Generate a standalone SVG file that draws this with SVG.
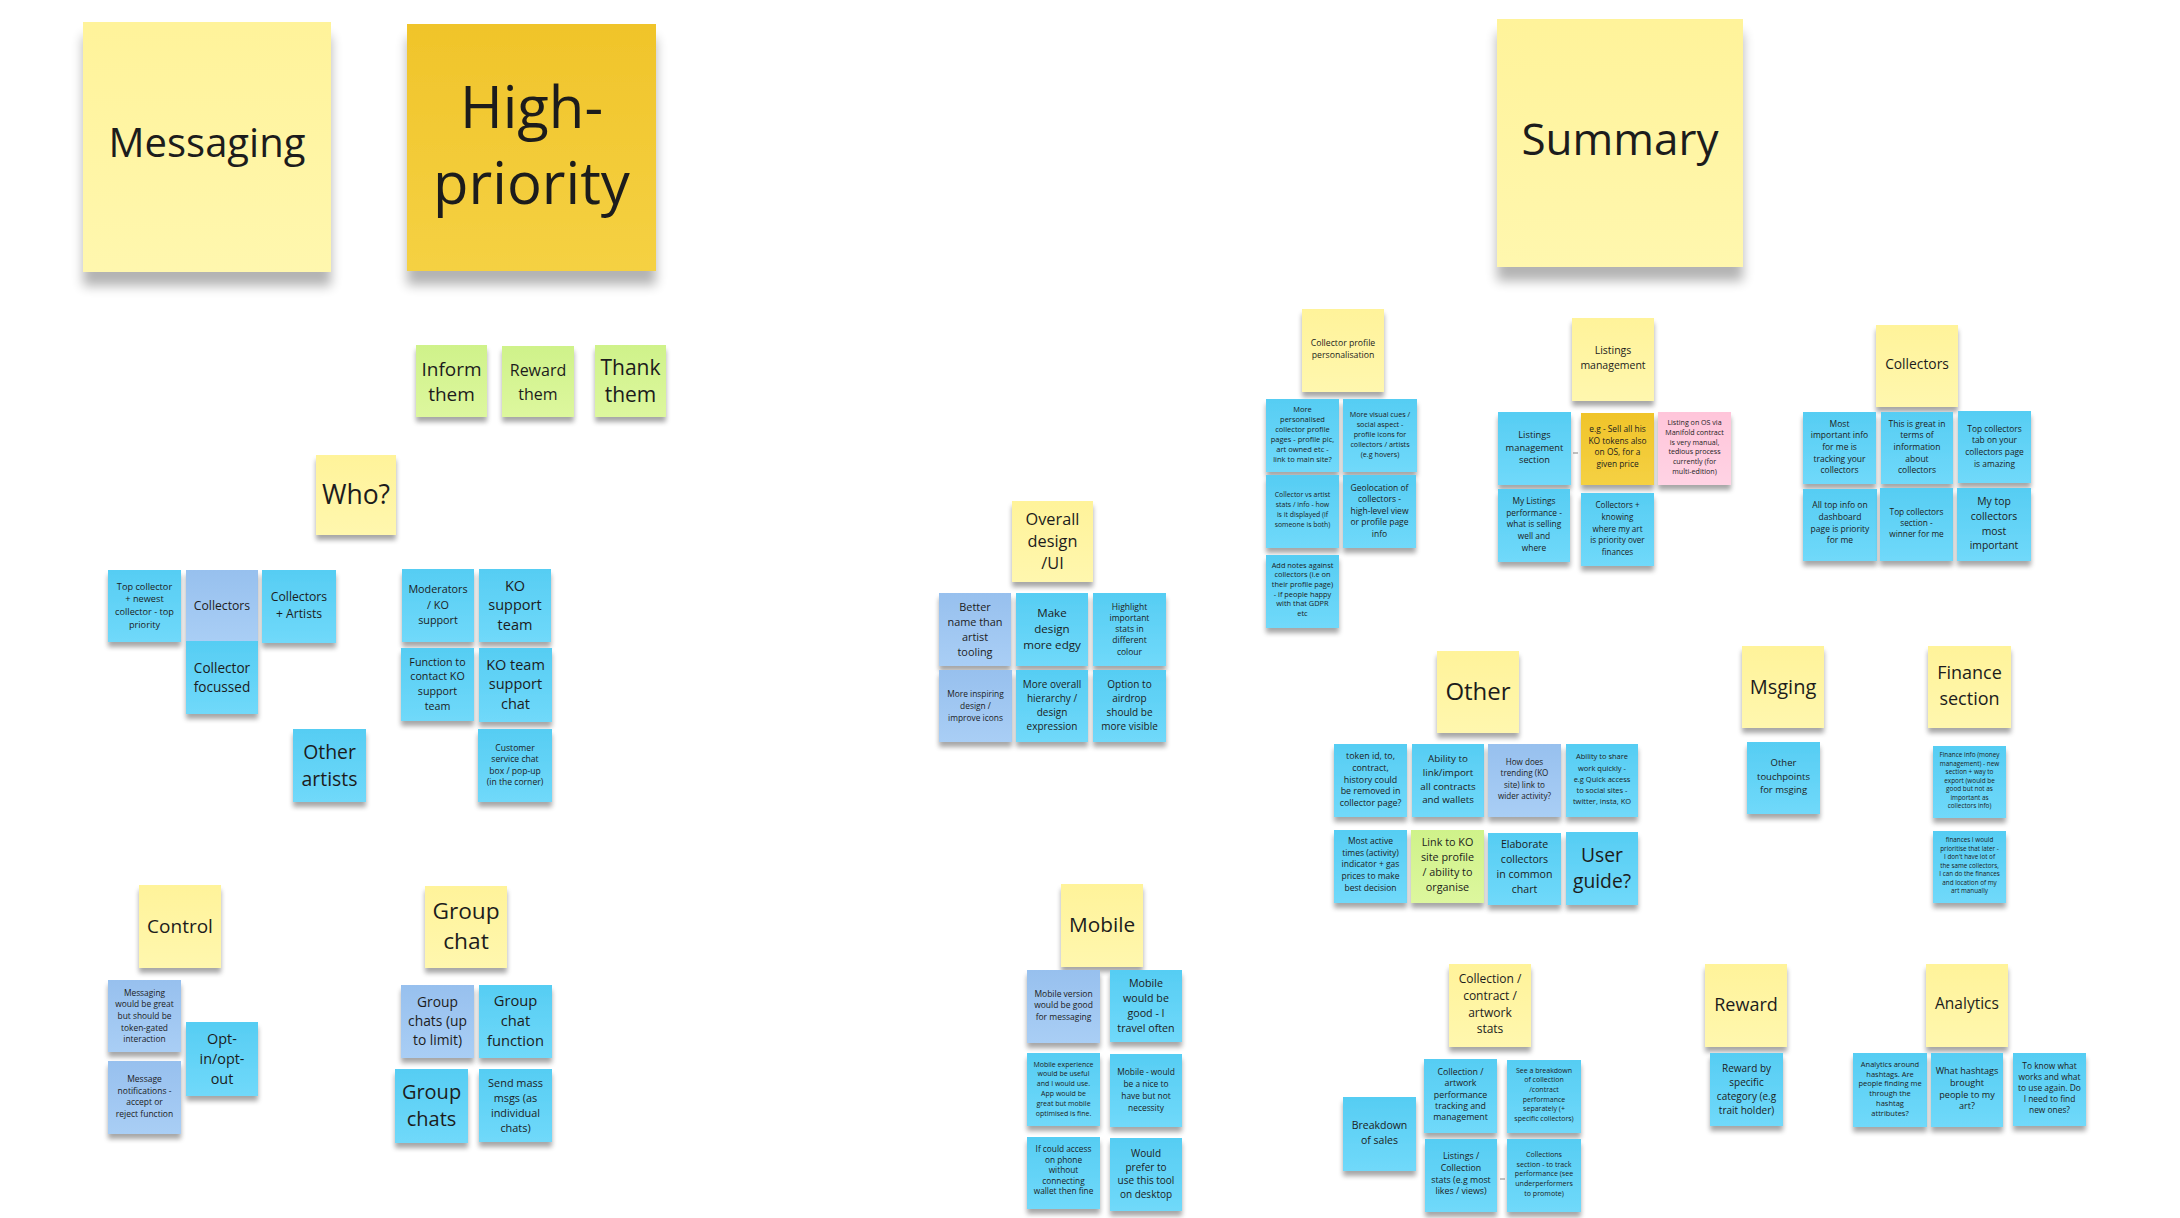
<svg xmlns="http://www.w3.org/2000/svg" width="2180" height="1218" viewBox="0 0 2180 1218">
<defs>
<linearGradient id="gc" x1="0" y1="0" x2="0" y2="1"><stop offset="0" stop-color="#56CDF3"/><stop offset="1" stop-color="#70D9FA"/></linearGradient>
<linearGradient id="gp" x1="0" y1="0" x2="0" y2="1"><stop offset="0" stop-color="#97C0EE"/><stop offset="1" stop-color="#A9CEF5"/></linearGradient>
<linearGradient id="gy" x1="0" y1="0" x2="0" y2="1"><stop offset="0" stop-color="#FFF39A"/><stop offset="1" stop-color="#FFF7AE"/></linearGradient>
<linearGradient id="gg" x1="0" y1="0" x2="0" y2="1"><stop offset="0" stop-color="#CFF28A"/><stop offset="1" stop-color="#DDF79E"/></linearGradient>
<linearGradient id="go" x1="0" y1="0" x2="0" y2="1"><stop offset="0" stop-color="#F0C42A"/><stop offset="1" stop-color="#F5D143"/></linearGradient>
<linearGradient id="gk" x1="0" y1="0" x2="0" y2="1"><stop offset="0" stop-color="#FFC5DA"/><stop offset="1" stop-color="#FFD3E4"/></linearGradient>
<radialGradient id="bot" cx="0.5" cy="1" r="0.5" gradientTransform="translate(0,0) scale(1,1)"><stop offset="0" stop-color="#000" stop-opacity="0.07"/><stop offset="1" stop-color="#000" stop-opacity="0"/></radialGradient>
<filter id="s" x="-20%" y="-20%" width="140%" height="150%"><feGaussianBlur in="SourceAlpha" stdDeviation="2.5"/><feOffset dy="5"/><feComponentTransfer><feFuncA type="linear" slope="0.35"/></feComponentTransfer><feMerge><feMergeNode/><feMergeNode in="SourceGraphic"/></feMerge></filter>
<filter id="L" x="-20%" y="-20%" width="140%" height="150%"><feGaussianBlur in="SourceAlpha" stdDeviation="6"/><feOffset dy="14"/><feComponentTransfer><feFuncA type="linear" slope="0.3"/></feComponentTransfer><feMerge><feMergeNode/><feMergeNode in="SourceGraphic"/></feMerge></filter>
</defs>
<style>
rect.n{filter:url(#s)}
rect.B{filter:url(#L)}
.c{fill:url(#gc)}.p{fill:url(#gp)}.y{fill:url(#gy)}.g{fill:url(#gg)}.o{fill:url(#go)}.k{fill:url(#gk)}
text{font-family:"Open Sans","Noto Sans","Liberation Sans",sans-serif;fill:#1c1c1c;text-anchor:middle}
.cn{stroke:#9a9a9a;stroke-width:1.2;fill:none}
</style>
<rect width="2180" height="1218" fill="#ffffff"/>
<ellipse cx="1050" cy="1240" rx="900" ry="60" fill="url(#bot)"/>

<g id="connectors">
<line class="cn" x1="1573" y1="453" x2="1578" y2="453"/>
<line class="cn" x1="1500" y1="1179" x2="1505" y2="1179"/>
</g>

<g id="note-messaging"><rect class="B y" x="83" y="22" width="248" height="250"/><text x="207" y="157" font-size="40">Messaging</text></g>
<g id="note-high-priority"><rect class="B o" x="407" y="24" width="249" height="247"/><text x="531.5" y="128" font-size="58">High-<tspan x="531.5" dy="76">priority</tspan></text></g>
<g id="note-summary"><rect class="B y" x="1497" y="19" width="246" height="248"/><text x="1620" y="155" font-size="44">Summary</text></g>

<g id="note-inform"><rect class="n g" x="416" y="345" width="71" height="72"/><text x="451.5" y="376" font-size="19">Inform<tspan x="451.5" dy="25">them</tspan></text></g>
<g id="note-reward-them"><rect class="n g" x="502" y="346" width="72" height="71"/><text x="538" y="376" font-size="16">Reward<tspan x="538" dy="24">them</tspan></text></g>
<g id="note-thank"><rect class="n g" x="595" y="345" width="71" height="72"/><text x="630.5" y="375" font-size="21">Thank<tspan x="630.5" dy="27">them</tspan></text></g>

<g id="note-who"><rect class="n y" x="316" y="455" width="80" height="80"/><text x="356" y="504" font-size="26.5">Who?</text></g>
<g id="note-top-collector"><rect class="n c" x="108" y="570" width="73" height="72"/><text x="144.5" y="589.5" font-size="9.2">Top collector<tspan x="144.5" dy="12.7">+ newest</tspan><tspan x="144.5" dy="12.7">collector - top</tspan><tspan x="144.5" dy="12.7">priority</tspan></text></g>
<g id="note-collectors-who"><rect class="n p" x="186" y="570" width="72" height="71"/><text x="222" y="609.5" font-size="12.2">Collectors</text></g>
<g id="note-collector-focussed"><rect class="n c" x="186" y="641" width="72" height="73"/><text x="222" y="672.5" font-size="13.6">Collector<tspan x="222" dy="19">focussed</tspan></text></g>
<g id="note-collectors-artists"><rect class="n c" x="262" y="570" width="74" height="73"/><text x="299" y="601" font-size="12.2">Collectors<tspan x="299" dy="17">+ Artists</tspan></text></g>
<g id="note-other-artists"><rect class="n c" x="293" y="729" width="73" height="73"/><text x="329.5" y="759" font-size="19.4">Other<tspan x="329.5" dy="27">artists</tspan></text></g>
<g id="note-moderators"><rect class="n c" x="402" y="569" width="72" height="73"/><text x="438" y="593" font-size="10.8">Moderators<tspan x="438" dy="15.5">/ KO</tspan><tspan x="438" dy="15.5">support</tspan></text></g>
<g id="note-ko-support-team"><rect class="n c" x="479" y="569" width="72" height="73"/><text x="515" y="590.5" font-size="14.5">KO<tspan x="515" dy="19.7">support</tspan><tspan x="515" dy="19.7">team</tspan></text></g>
<g id="note-function-contact"><rect class="n c" x="401" y="648" width="73" height="73"/><text x="437.5" y="665.5" font-size="10.7">Function to<tspan x="437.5" dy="14.8">contact KO</tspan><tspan x="437.5" dy="14.8">support</tspan><tspan x="437.5" dy="14.8">team</tspan></text></g>
<g id="note-ko-team-chat"><rect class="n c" x="479" y="648" width="73" height="74"/><text x="515.5" y="669.5" font-size="14.5">KO team<tspan x="515.5" dy="19.7">support</tspan><tspan x="515.5" dy="19.7">chat</tspan></text></g>
<g id="note-customer-service"><rect class="n c" x="478" y="729" width="74" height="73"/><text x="515" y="751.3" font-size="8.6">Customer<tspan x="515" dy="11.1">service chat</tspan><tspan x="515" dy="11.1">box / pop-up</tspan><tspan x="515" dy="11.1">(in the corner)</tspan></text></g>

<g id="note-control"><rect class="n y" x="139" y="885" width="82" height="83"/><text x="180" y="933" font-size="19">Control</text></g>
<g id="note-messaging-token"><rect class="n p" x="108" y="980" width="73" height="72"/><text x="144.5" y="995.5" font-size="8.4">Messaging<tspan x="144.5" dy="11.7">would be great</tspan><tspan x="144.5" dy="11.7">but should be</tspan><tspan x="144.5" dy="11.7">token-gated</tspan><tspan x="144.5" dy="11.7">interaction</tspan></text></g>
<g id="note-message-notifications"><rect class="n p" x="108" y="1061" width="73" height="73"/><text x="144.5" y="1082" font-size="8.5">Message<tspan x="144.5" dy="11.7">notifications -</tspan><tspan x="144.5" dy="11.7">accept or</tspan><tspan x="144.5" dy="11.7">reject function</tspan></text></g>
<g id="note-opt-in"><rect class="n c" x="186" y="1022" width="72" height="74"/><text x="222" y="1044" font-size="14.4">Opt-<tspan x="222" dy="20">in/opt-</tspan><tspan x="222" dy="20">out</tspan></text></g>

<g id="note-group-chat"><rect class="n y" x="425" y="886" width="82" height="82"/><text x="466" y="919" font-size="22.7">Group<tspan x="466" dy="30">chat</tspan></text></g>
<g id="note-group-chats-limit"><rect class="n p" x="401" y="985" width="73" height="73"/><text x="437.5" y="1007" font-size="13.8">Group<tspan x="437.5" dy="19">chats (up</tspan><tspan x="437.5" dy="19">to limit)</tspan></text></g>
<g id="note-group-chat-function"><rect class="n c" x="479" y="985" width="73" height="73"/><text x="515.5" y="1006" font-size="14.7">Group<tspan x="515.5" dy="20">chat</tspan><tspan x="515.5" dy="20">function</tspan></text></g>
<g id="note-group-chats"><rect class="n c" x="395" y="1069" width="73" height="74"/><text x="431.5" y="1098.5" font-size="20">Group<tspan x="431.5" dy="27.5">chats</tspan></text></g>
<g id="note-send-mass"><rect class="n c" x="479" y="1069" width="73" height="73"/><text x="515.5" y="1086.5" font-size="10.9">Send mass<tspan x="515.5" dy="15">msgs (as</tspan><tspan x="515.5" dy="15">individual</tspan><tspan x="515.5" dy="15">chats)</tspan></text></g>

<g id="note-overall-design"><rect class="n y" x="1012" y="501" width="81" height="81"/><text x="1052.5" y="525" font-size="16.3">Overall<tspan x="1052.5" dy="22">design</tspan><tspan x="1052.5" dy="22">/UI</tspan></text></g>
<g id="note-better-name"><rect class="n p" x="939" y="593" width="72" height="73"/><text x="975" y="610.5" font-size="10.9">Better<tspan x="975" dy="15">name than</tspan><tspan x="975" dy="15">artist</tspan><tspan x="975" dy="15">tooling</tspan></text></g>
<g id="note-make-design"><rect class="n c" x="1016" y="593" width="72" height="73"/><text x="1052" y="617" font-size="11.6">Make<tspan x="1052" dy="15.8">design</tspan><tspan x="1052" dy="15.8">more edgy</tspan></text></g>
<g id="note-highlight"><rect class="n c" x="1093" y="593" width="73" height="73"/><text x="1129.5" y="609.5" font-size="8.5">Highlight<tspan x="1129.5" dy="11.3">important</tspan><tspan x="1129.5" dy="11.3">stats in</tspan><tspan x="1129.5" dy="11.3">different</tspan><tspan x="1129.5" dy="11.3">colour</tspan></text></g>
<g id="note-more-inspiring"><rect class="n p" x="939" y="670" width="73" height="72"/><text x="975.5" y="697.3" font-size="8.4">More inspiring<tspan x="975.5" dy="11.7">design /</tspan><tspan x="975.5" dy="11.7">improve icons</tspan></text></g>
<g id="note-more-overall"><rect class="n c" x="1016" y="670" width="72" height="72"/><text x="1052" y="688.3" font-size="10">More overall<tspan x="1052" dy="14">hierarchy /</tspan><tspan x="1052" dy="14">design</tspan><tspan x="1052" dy="14">expression</tspan></text></g>
<g id="note-option-airdrop"><rect class="n c" x="1093" y="670" width="73" height="72"/><text x="1129.5" y="688.3" font-size="10">Option to<tspan x="1129.5" dy="14">airdrop</tspan><tspan x="1129.5" dy="14">should be</tspan><tspan x="1129.5" dy="14">more visible</tspan></text></g>

<g id="note-mobile"><rect class="n y" x="1061" y="884" width="82" height="83"/><text x="1102" y="932" font-size="20.8">Mobile</text></g>
<g id="note-mobile-version"><rect class="n p" x="1027" y="970" width="73" height="73"/><text x="1063.5" y="997" font-size="8.5">Mobile version<tspan x="1063.5" dy="11.3">would be good</tspan><tspan x="1063.5" dy="11.3">for messaging</tspan></text></g>
<g id="note-mobile-good"><rect class="n c" x="1110" y="970" width="72" height="72"/><text x="1146" y="987" font-size="10.7">Mobile<tspan x="1146" dy="15">would be</tspan><tspan x="1146" dy="15">good - I</tspan><tspan x="1146" dy="15">travel often</tspan></text></g>
<g id="note-mobile-experience"><rect class="n c" x="1027" y="1053" width="73" height="73"/><text x="1063.5" y="1066.5" font-size="7">Mobile experience<tspan x="1063.5" dy="9.9">would be useful</tspan><tspan x="1063.5" dy="9.9">and I would use.</tspan><tspan x="1063.5" dy="9.9">App would be</tspan><tspan x="1063.5" dy="9.9">great but mobile</tspan><tspan x="1063.5" dy="9.9">optimised is fine.</tspan></text></g>
<g id="note-mobile-nice"><rect class="n c" x="1110" y="1054" width="72" height="73"/><text x="1146" y="1075.3" font-size="8.4">Mobile - would<tspan x="1146" dy="11.8">be a nice to</tspan><tspan x="1146" dy="11.8">have but not</tspan><tspan x="1146" dy="11.8">necessity</tspan></text></g>
<g id="note-if-could"><rect class="n c" x="1027" y="1137" width="73" height="72"/><text x="1063.5" y="1152" font-size="8.3">If could access<tspan x="1063.5" dy="10.6">on phone</tspan><tspan x="1063.5" dy="10.6">without</tspan><tspan x="1063.5" dy="10.6">connecting</tspan><tspan x="1063.5" dy="10.6">wallet then fine</tspan></text></g>
<g id="note-would-prefer"><rect class="n c" x="1110" y="1138" width="72" height="73"/><text x="1146" y="1157" font-size="10">Would<tspan x="1146" dy="13.7">prefer to</tspan><tspan x="1146" dy="13.7">use this tool</tspan><tspan x="1146" dy="13.7">on desktop</tspan></text></g>

<g id="note-collector-profile"><rect class="n y" x="1302" y="309" width="82" height="83"/><text x="1343" y="346" font-size="8.7">Collector profile<tspan x="1343" dy="11.7">personalisation</tspan></text></g>
<g id="note-more-personalised"><rect class="n c" x="1266" y="399" width="73" height="73"/><text x="1302.5" y="412" font-size="7.5">More<tspan x="1302.5" dy="9.95">personalised</tspan><tspan x="1302.5" dy="9.95">collector profile</tspan><tspan x="1302.5" dy="9.95">pages - profile pic,</tspan><tspan x="1302.5" dy="9.95">art owned etc -</tspan><tspan x="1302.5" dy="9.95">link to main site?</tspan></text></g>
<g id="note-more-visual"><rect class="n c" x="1343" y="399" width="74" height="73"/><text x="1380" y="417.3" font-size="7.2">More visual cues /<tspan x="1380" dy="9.85">social aspect -</tspan><tspan x="1380" dy="9.85">profile icons for</tspan><tspan x="1380" dy="9.85">collectors / artists</tspan><tspan x="1380" dy="9.85">(e.g hovers)</tspan></text></g>
<g id="note-collector-vs-artist"><rect class="n c" x="1266" y="475" width="73" height="73"/><text x="1302.5" y="497.3" font-size="6.9">Collector vs artist<tspan x="1302.5" dy="10">stats / info - how</tspan><tspan x="1302.5" dy="10">is it displayed (if</tspan><tspan x="1302.5" dy="10">someone is both)</tspan></text></g>
<g id="note-geolocation"><rect class="n c" x="1343" y="475" width="73" height="73"/><text x="1379.5" y="490.7" font-size="8.5">Geolocation of<tspan x="1379.5" dy="11.5">collectors -</tspan><tspan x="1379.5" dy="11.5">high-level view</tspan><tspan x="1379.5" dy="11.5">or profile page</tspan><tspan x="1379.5" dy="11.5">info</tspan></text></g>
<g id="note-add-notes"><rect class="n c" x="1266" y="555" width="73" height="73"/><text x="1302.5" y="567.7" font-size="7.4">Add notes against<tspan x="1302.5" dy="9.67">collectors (i.e on</tspan><tspan x="1302.5" dy="9.67">their profile page)</tspan><tspan x="1302.5" dy="9.67">- if people happy</tspan><tspan x="1302.5" dy="9.67">with that GDPR</tspan><tspan x="1302.5" dy="9.67">etc</tspan></text></g>

<g id="note-listings-management"><rect class="n y" x="1572" y="318" width="82" height="83"/><text x="1613" y="354.3" font-size="10.5">Listings<tspan x="1613" dy="15">management</tspan></text></g>
<g id="note-listings-section"><rect class="n c" x="1498" y="412" width="73" height="73"/><text x="1534.5" y="437.7" font-size="9.3">Listings<tspan x="1534.5" dy="12.8">management</tspan><tspan x="1534.5" dy="12.8">section</tspan></text></g>
<g id="note-eg-sell"><rect class="n o" x="1581" y="413" width="73" height="72"/><text x="1617.5" y="432.3" font-size="8.4">e.g - Sell all his<tspan x="1617.5" dy="11.5">KO tokens also</tspan><tspan x="1617.5" dy="11.5">on OS, for a</tspan><tspan x="1617.5" dy="11.5">given price</tspan></text></g>
<g id="note-listing-os"><rect class="n k" x="1658" y="412" width="73" height="73"/><text x="1694.5" y="425" font-size="7.1">Listing on OS via<tspan x="1694.5" dy="9.8">Manifold contract</tspan><tspan x="1694.5" dy="9.8">is very manual,</tspan><tspan x="1694.5" dy="9.8">tedious process</tspan><tspan x="1694.5" dy="9.8">currently (for</tspan><tspan x="1694.5" dy="9.8">multi-edition)</tspan></text></g>
<g id="note-my-listings"><rect class="n c" x="1498" y="489" width="72" height="73"/><text x="1534" y="504" font-size="8.4">My Listings<tspan x="1534" dy="11.7">performance -</tspan><tspan x="1534" dy="11.7">what is selling</tspan><tspan x="1534" dy="11.7">well and</tspan><tspan x="1534" dy="11.7">where</tspan></text></g>
<g id="note-collectors-knowing"><rect class="n c" x="1581" y="493" width="73" height="73"/><text x="1617.5" y="508.3" font-size="8.1">Collectors +<tspan x="1617.5" dy="11.7">knowing</tspan><tspan x="1617.5" dy="11.7">where my art</tspan><tspan x="1617.5" dy="11.7">is priority over</tspan><tspan x="1617.5" dy="11.7">finances</tspan></text></g>

<g id="note-collectors-summary"><rect class="n y" x="1876" y="325" width="82" height="82"/><text x="1917" y="369.3" font-size="13.8">Collectors</text></g>
<g id="note-most-important"><rect class="n c" x="1803" y="412" width="73" height="72"/><text x="1839.5" y="426.7" font-size="8.5">Most<tspan x="1839.5" dy="11.67">important info</tspan><tspan x="1839.5" dy="11.67">for me is</tspan><tspan x="1839.5" dy="11.67">tracking your</tspan><tspan x="1839.5" dy="11.67">collectors</tspan></text></g>
<g id="note-this-great"><rect class="n c" x="1881" y="412" width="72" height="72"/><text x="1917" y="426.7" font-size="8.5">This is great in<tspan x="1917" dy="11.67">terms of</tspan><tspan x="1917" dy="11.67">information</tspan><tspan x="1917" dy="11.67">about</tspan><tspan x="1917" dy="11.67">collectors</tspan></text></g>
<g id="note-top-tab"><rect class="n c" x="1958" y="411" width="73" height="72"/><text x="1994.5" y="431.7" font-size="8.4">Top collectors<tspan x="1994.5" dy="11.67">tab on your</tspan><tspan x="1994.5" dy="11.67">collectors page</tspan><tspan x="1994.5" dy="11.67">is amazing</tspan></text></g>
<g id="note-all-top"><rect class="n c" x="1803" y="489" width="74" height="72"/><text x="1840" y="508.3" font-size="8.5">All top info on<tspan x="1840" dy="11.67">dashboard</tspan><tspan x="1840" dy="11.67">page is priority</tspan><tspan x="1840" dy="11.67">for me</tspan></text></g>
<g id="note-top-section"><rect class="n c" x="1880" y="488" width="73" height="73"/><text x="1916.5" y="515" font-size="8.3">Top collectors<tspan x="1916.5" dy="11.2">section -</tspan><tspan x="1916.5" dy="11.2">winner for me</tspan></text></g>
<g id="note-my-top"><rect class="n c" x="1957" y="488" width="74" height="73"/><text x="1994" y="505" font-size="10.4">My top<tspan x="1994" dy="14.8">collectors</tspan><tspan x="1994" dy="14.8">most</tspan><tspan x="1994" dy="14.8">important</tspan></text></g>

<g id="note-other"><rect class="n y" x="1437" y="651" width="82" height="82"/><text x="1478" y="700" font-size="24">Other</text></g>
<g id="note-token-id"><rect class="n c" x="1334" y="744" width="73" height="73"/><text x="1370.5" y="759.3" font-size="8.9">token id, to,<tspan x="1370.5" dy="11.7">contract,</tspan><tspan x="1370.5" dy="11.7">history could</tspan><tspan x="1370.5" dy="11.7">be removed in</tspan><tspan x="1370.5" dy="11.7">collector page?</tspan></text></g>
<g id="note-ability-link"><rect class="n c" x="1412" y="744" width="72" height="73"/><text x="1448" y="761.7" font-size="9.8">Ability to<tspan x="1448" dy="13.9">link/import</tspan><tspan x="1448" dy="13.9">all contracts</tspan><tspan x="1448" dy="13.9">and wallets</tspan></text></g>
<g id="note-how-trending"><rect class="n p" x="1488" y="744" width="73" height="73"/><text x="1524.5" y="765" font-size="8.1">How does<tspan x="1524.5" dy="11.4">trending (KO</tspan><tspan x="1524.5" dy="11.4">site) link to</tspan><tspan x="1524.5" dy="11.4">wider activity?</tspan></text></g>
<g id="note-ability-share"><rect class="n c" x="1566" y="744" width="72" height="73"/><text x="1602" y="759.3" font-size="7.5">Ability to share<tspan x="1602" dy="11.2">work quickly -</tspan><tspan x="1602" dy="11.2">e.g Quick access</tspan><tspan x="1602" dy="11.2">to social sites -</tspan><tspan x="1602" dy="11.2">twitter, insta, KO</tspan></text></g>
<g id="note-most-active"><rect class="n c" x="1334" y="830" width="73" height="73"/><text x="1370.5" y="844" font-size="8.5">Most active<tspan x="1370.5" dy="11.67">times (activity)</tspan><tspan x="1370.5" dy="11.67">indicator + gas</tspan><tspan x="1370.5" dy="11.67">prices to make</tspan><tspan x="1370.5" dy="11.67">best decision</tspan></text></g>
<g id="note-link-ko"><rect class="n g" x="1411" y="830" width="73" height="73"/><text x="1447.5" y="845.7" font-size="10.8">Link to KO<tspan x="1447.5" dy="15">site profile</tspan><tspan x="1447.5" dy="15">/ ability to</tspan><tspan x="1447.5" dy="15">organise</tspan></text></g>
<g id="note-elaborate"><rect class="n c" x="1488" y="833" width="73" height="72"/><text x="1524.5" y="848.3" font-size="10.6">Elaborate<tspan x="1524.5" dy="15">collectors</tspan><tspan x="1524.5" dy="15">in common</tspan><tspan x="1524.5" dy="15">chart</tspan></text></g>
<g id="note-user-guide"><rect class="n c" x="1566" y="832" width="72" height="73"/><text x="1602" y="861.7" font-size="19.3">User<tspan x="1602" dy="26.7">guide?</tspan></text></g>

<g id="note-msging"><rect class="n y" x="1742" y="646" width="82" height="82"/><text x="1783" y="694" font-size="20">Msging</text></g>
<g id="note-other-touchpoints"><rect class="n c" x="1747" y="742" width="73" height="72"/><text x="1783.5" y="765.7" font-size="9.5">Other<tspan x="1783.5" dy="13.8">touchpoints</tspan><tspan x="1783.5" dy="13.8">for msging</tspan></text></g>

<g id="note-finance-section"><rect class="n y" x="1928" y="646" width="83" height="82"/><text x="1969.5" y="679.3" font-size="18">Finance<tspan x="1969.5" dy="26">section</tspan></text></g>
<g id="note-finance-info"><rect class="n c" x="1933" y="746" width="73" height="72"/><text x="1969.5" y="757.3" font-size="6.4">Finance info (money<tspan x="1969.5" dy="8.5">management) - new</tspan><tspan x="1969.5" dy="8.5">section + way to</tspan><tspan x="1969.5" dy="8.5">export (would be</tspan><tspan x="1969.5" dy="8.5">good but not as</tspan><tspan x="1969.5" dy="8.5">important as</tspan><tspan x="1969.5" dy="8.5">collectors info)</tspan></text></g>
<g id="note-finances-later"><rect class="n c" x="1933" y="831" width="73" height="72"/><text x="1969.5" y="842.3" font-size="6.3">finances I would<tspan x="1969.5" dy="8.5">prioritise that later -</tspan><tspan x="1969.5" dy="8.5">I don't have lot of</tspan><tspan x="1969.5" dy="8.5">the same collectors,</tspan><tspan x="1969.5" dy="8.5">I can do the finances</tspan><tspan x="1969.5" dy="8.5">and location of my</tspan><tspan x="1969.5" dy="8.5">art manually</tspan></text></g>

<g id="note-collection-stats"><rect class="n y" x="1449" y="964" width="82" height="83"/><text x="1490" y="983.3" font-size="12">Collection /<tspan x="1490" dy="16.7">contract /</tspan><tspan x="1490" dy="16.7">artwork</tspan><tspan x="1490" dy="16.7">stats</tspan></text></g>
<g id="note-collection-performance"><rect class="n c" x="1424" y="1059" width="73" height="74"/><text x="1460.5" y="1075" font-size="8.8">Collection /<tspan x="1460.5" dy="11.25">artwork</tspan><tspan x="1460.5" dy="11.25">performance</tspan><tspan x="1460.5" dy="11.25">tracking and</tspan><tspan x="1460.5" dy="11.25">management</tspan></text></g>
<g id="note-see-breakdown"><rect class="n c" x="1507" y="1060" width="74" height="73"/><text x="1544" y="1072.7" font-size="7">See a breakdown<tspan x="1544" dy="9.6">of collection</tspan><tspan x="1544" dy="9.6">/contract</tspan><tspan x="1544" dy="9.6">performance</tspan><tspan x="1544" dy="9.6">separately (+</tspan><tspan x="1544" dy="9.6">specific collectors)</tspan></text></g>
<g id="note-breakdown-sales"><rect class="n c" x="1343" y="1097" width="73" height="74"/><text x="1379.5" y="1129" font-size="10.5">Breakdown<tspan x="1379.5" dy="15">of sales</tspan></text></g>
<g id="note-listings-collection-stats"><rect class="n c" x="1425" y="1139" width="72" height="73"/><text x="1461" y="1159.3" font-size="8.8">Listings /<tspan x="1461" dy="11.6">Collection</tspan><tspan x="1461" dy="11.6">stats (e.g most</tspan><tspan x="1461" dy="11.6">likes / views)</tspan></text></g>
<g id="note-collections-section"><rect class="n c" x="1507" y="1139" width="74" height="73"/><text x="1544" y="1156.7" font-size="7.1">Collections<tspan x="1544" dy="9.8">section - to track</tspan><tspan x="1544" dy="9.8">performance (see</tspan><tspan x="1544" dy="9.8">underperformers</tspan><tspan x="1544" dy="9.8">to promote)</tspan></text></g>

<g id="note-reward"><rect class="n y" x="1705" y="964" width="82" height="83"/><text x="1746" y="1010.7" font-size="18">Reward</text></g>
<g id="note-reward-by"><rect class="n c" x="1710" y="1053" width="73" height="73"/><text x="1746.5" y="1071.7" font-size="10">Reward by<tspan x="1746.5" dy="14.1">specific</tspan><tspan x="1746.5" dy="14.1">category (e.g</tspan><tspan x="1746.5" dy="14.1">trait holder)</tspan></text></g>

<g id="note-analytics"><rect class="n y" x="1926" y="964" width="82" height="83"/><text x="1967" y="1009.3" font-size="15.5">Analytics</text></g>
<g id="note-analytics-hashtags"><rect class="n c" x="1853" y="1053" width="74" height="74"/><text x="1890" y="1066.7" font-size="7.5">Analytics around<tspan x="1890" dy="9.8">hashtags. Are</tspan><tspan x="1890" dy="9.8">people finding me</tspan><tspan x="1890" dy="9.8">through the</tspan><tspan x="1890" dy="9.8">hashtag</tspan><tspan x="1890" dy="9.8">attributes?</tspan></text></g>
<g id="note-what-hashtags"><rect class="n c" x="1931" y="1053" width="72" height="74"/><text x="1967" y="1074.3" font-size="9.1">What hashtags<tspan x="1967" dy="11.67">brought</tspan><tspan x="1967" dy="11.67">people to my</tspan><tspan x="1967" dy="11.67">art?</tspan></text></g>
<g id="note-to-know"><rect class="n c" x="2013" y="1053" width="73" height="73"/><text x="2049.5" y="1069.3" font-size="8.4">To know what<tspan x="2049.5" dy="10.85">works and what</tspan><tspan x="2049.5" dy="10.85">to use again. Do</tspan><tspan x="2049.5" dy="10.85">I need to find</tspan><tspan x="2049.5" dy="10.85">new ones?</tspan></text></g>
</svg>
